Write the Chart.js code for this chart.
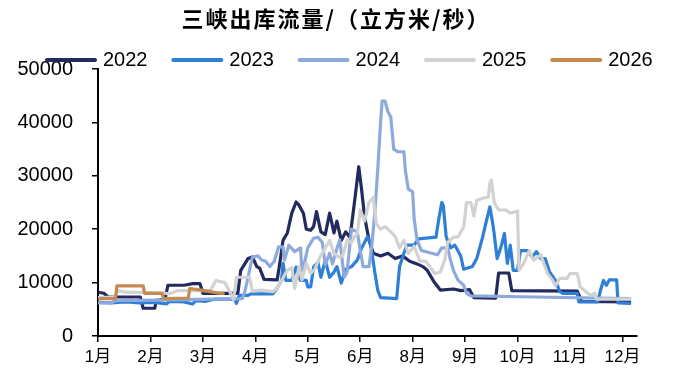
<!DOCTYPE html>
<html lang="zh">
<head>
<meta charset="UTF-8">
<title>三峡出库流量</title>
<script src="https://cdn.jsdelivr.net/npm/chart.js"></script>
<style>
  body { margin: 0; background: #fff; }
  #wrap { width: 676px; height: 378px; }
</style>
</head>
<body>
<div id="wrap"><canvas id="flow" width="676" height="378"></canvas></div>
<script>
// day-of-year / flow (m3/s)
const days2022 = [1,5,8,30,32,40,41,47,49,60,66,71,73,97,99,104,107,110,112,115,124,126,128,131,134,137,139,142,144,147,149,151,154,157,160,163,165,168,171,174,177,180,182,184,187,190,195,200,205,210,215,220,224,227,232,236,245,250,256,259,274,276,283,285,330,333,366];
const flow2022 = [8200,8000,7300,7300,5200,5200,6700,6900,9500,9500,9800,9800,8000,8000,12300,14500,14800,13000,12700,10600,10500,14000,17900,19300,23000,25100,24500,23000,20000,19800,20500,23300,19500,19000,23000,19300,21500,17900,19500,18500,24900,31700,27300,22300,18000,15500,15000,15500,14500,15000,14000,13500,13000,12300,10000,8600,8800,8500,8700,7200,7100,11800,11800,8500,8400,6500,6400];

const days2023 = [1,10,20,30,40,48,50,60,66,68,75,81,90,95,96,98,104,106,121,124,127,128,130,134,137,140,144,145,147,149,152,154,157,160,163,165,168,171,175,179,182,186,188,191,193,195,206,208,211,213,218,221,233,235,237,238,240,243,246,250,252,258,261,265,268,270,272,273,275,278,280,282,284,286,289,291,296,299,302,305,308,311,315,318,320,330,331,344,346,348,350,352,357,358,366];
const flow2023 = [6300,6200,6400,6200,6300,6000,6500,6400,6000,6600,6500,6900,6900,6800,6100,7600,7600,7900,7900,9000,10400,13600,10400,10400,12900,10400,10400,9200,9200,12900,13800,11000,14200,11000,12000,13000,9900,12500,13000,14200,16500,18600,17400,12000,8600,7200,7000,13000,15500,17000,17000,18200,18500,22000,25000,24500,18600,16500,17000,15000,12500,13000,14500,18500,22000,24200,21000,19000,14500,17000,19200,13600,17000,12300,12300,16000,16000,14800,15800,14500,14500,12000,10400,8300,8000,8000,6400,6400,8600,10400,9500,10500,10500,6200,6100];

const days2024 = [1,10,13,40,60,80,100,102,104,107,111,113,116,119,122,125,128,129,132,136,140,141,143,145,149,152,155,157,160,162,165,167,170,172,175,179,181,183,187,189,191,193,195,196,198,200,202,204,207,211,212,214,217,218,220,223,230,234,237,241,243,245,248,252,254,257,300,366];
const flow2024 = [6200,6200,6600,6700,6800,6900,7000,8500,11000,14800,15000,14300,14000,13000,14000,16700,16700,14200,17000,15800,16500,12300,14000,16500,18300,18500,17500,13300,15500,13500,16400,18000,11000,12000,20000,19500,16000,13000,13000,17000,23000,31000,40000,44000,44000,42000,41000,35000,34500,34500,31000,27500,27000,22000,18000,16000,15500,15200,16500,16500,14200,12300,10500,9500,8000,7500,7300,7000];

const days2025 = [1,12,15,20,44,50,56,64,78,82,88,92,94,96,105,107,113,121,124,127,131,134,136,139,141,144,147,150,153,156,160,163,166,169,172,175,177,179,181,184,187,190,192,195,198,202,205,208,211,214,218,222,226,229,232,236,239,241,245,248,252,254,257,259,261,265,269,270,271,273,276,281,284,289,290,293,297,300,305,307,310,313,315,318,323,325,330,332,336,339,342,343,366];
const flow2025 = [7200,7300,8500,8200,8100,7900,8500,8500,8500,10400,10000,8000,6800,11000,11000,8400,8600,8300,9000,10400,12300,12800,8900,13000,10500,13600,11700,12600,14600,16000,17900,15500,14800,15000,17900,17500,18600,19200,23600,21500,25000,26000,21000,20000,20500,19500,18600,16500,17900,15500,16800,14000,14000,12900,11700,12000,14200,17500,18500,18500,20400,25000,25000,22500,25400,25800,26000,28600,29200,25000,23600,23600,23000,23400,12300,13500,16000,14200,15200,13500,11500,10500,9400,10800,10800,11700,11700,9200,8300,7600,8000,6900,6900];

const days2026 = [1,13,14,32,33,45,46,63,64,72,79,84,87];
const flow2026 = [7000,7000,9400,9400,8000,8000,7000,7100,8900,8600,8250,8000,8000];

const seriesNames = ['2022', '2023', '2024', '2025', '2026'];
const seriesColors = ['#222a5e', '#2e7fd6', '#8eaadc', '#d2d2d2', '#c48a52'];
const seriesDays = [days2022, days2023, days2024, days2025, days2026];
const seriesFlow = [flow2022, flow2023, flow2024, flow2025, flow2026];

// x ticks every 36 days, labelled with the month of that day
const tickDays = [1, 37, 73, 109, 145, 181, 217, 253, 289, 325, 361];
const tickLabels = ['1月', '2月', '3月', '4月', '5月', '6月', '8月', '9月', '10月', '11月', '12月'];

const titleText = '三峡出库流量/（立方米/秒）';

const datasets = seriesNames.map((name, i) => ({
    label: name,
    data: seriesDays[i].map((d, k) => ({ x: d, y: seriesFlow[i][k] })),
    borderColor: seriesColors[i],
    backgroundColor: seriesColors[i],
    borderWidth: 3.2,
    pointRadius: 0,
    tension: 0,
    borderJoinStyle: 'round',
    borderCapStyle: 'round',
    order: seriesNames.length - i
}));

// title + legend drawn by hand so they sit where the original has them
const headerPlugin = {
    id: 'header',
    afterDraw(chart) {
        const ctx = chart.ctx;
        ctx.save();
        ctx.fillStyle = '#000';
        ctx.font = 'bold 22px "Noto Sans CJK SC"';
        ctx.letterSpacing = '2px';
        ctx.textAlign = 'center';
        ctx.textBaseline = 'middle';
        ctx.fillText(titleText, 336, 19);
        ctx.letterSpacing = '0px';

        ctx.font = '20px "Liberation Sans"';
        ctx.textAlign = 'left';
        seriesNames.forEach((name, i) => {
            const x0 = 47 + i * 126.3;
            ctx.strokeStyle = seriesColors[i];
            ctx.lineWidth = 4;
            ctx.lineCap = 'round';
            ctx.beginPath();
            ctx.moveTo(x0, 60);
            ctx.lineTo(x0 + 48, 60);
            ctx.stroke();
            ctx.fillStyle = '#000';
            ctx.fillText(name, x0 + 56, 60);
        });
        ctx.restore();
    }
};

new Chart(document.getElementById('flow'), {
    type: 'line',
    data: { datasets: datasets },
    options: {
        responsive: false,
        animation: false,
        devicePixelRatio: 1,
        layout: { padding: { left: 0, top: 69, right: 39, bottom: 0 } },
        plugins: {
            legend: { display: false },
            title: { display: false },
            tooltip: { enabled: false }
        },
        scales: {
            x: {
                type: 'linear',
                min: 1,
                max: 371,
                afterBuildTicks: (scale) => { scale.ticks = tickDays.map(v => ({ value: v })); },
                afterFit: (scale) => { scale.height = 42; },
                ticks: {
                    autoSkip: false,
                    maxRotation: 0,
                    padding: 5,
                    color: '#000',
                    font: { size: 17, family: '"Liberation Sans", "Noto Sans CJK SC"' },
                    callback: (value, index) => tickLabels[index]
                },
                grid: { drawOnChartArea: false, drawTicks: true, tickLength: 6, color: '#000', lineWidth: 1.5 },
                border: { display: true, color: '#000', width: 2 }
            },
            y: {
                min: 0,
                max: 50000,
                afterFit: (scale) => { scale.width = 98; },
                ticks: {
                    stepSize: 10000,
                    padding: 19,
                    color: '#000',
                    font: { size: 20, family: '"Liberation Sans"' },
                    callback: (value) => String(value)
                },
                grid: { drawOnChartArea: false, drawTicks: true, tickLength: 6, color: '#000', lineWidth: 1.5 },
                border: { display: true, color: '#000', width: 2 }
            }
        }
    },
    plugins: [headerPlugin]
});
</script>
</body>
</html>
